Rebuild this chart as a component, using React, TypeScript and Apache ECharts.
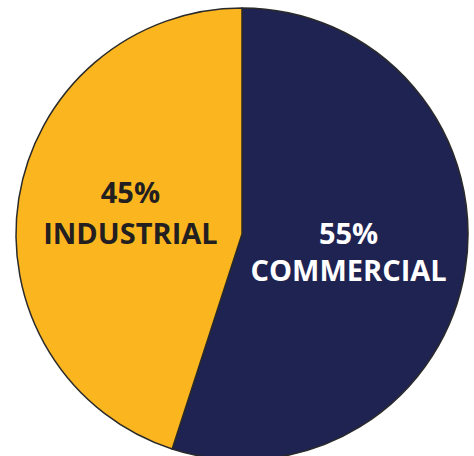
import React, { useEffect, useRef } from "react";
import * as echarts from "echarts";

const categories = ["COMMERCIAL", "INDUSTRIAL"];
const values = [55, 45];
const colors = ["#1E2352", "#FBB51F"];
const labelColors = ["#FFFFFF", "#231F20"];

export default function App() {
  const ref = useRef<HTMLDivElement>(null);
  useEffect(() => {
    if (!ref.current) return;
    const chart = echarts.init(ref.current, null, { renderer: "svg" });
    const labelTweaks = [
      { offset: [-8, -1], lineHeight: 37 },
      { offset: [3, -4], lineHeight: 41 },
    ];
    chart.setOption({
      animation: false,
      series: [
        {
          type: "pie",
          center: [242, 234],
          radius: [0, 226],
          startAngle: 90,
          clockwise: true,
          silent: true,
          itemStyle: { borderColor: "#2a2a2a", borderWidth: 1.5 },
          label: {
            show: true,
            position: "inside",
            formatter: "{c}%\n{b}",
            fontFamily: "Open Sans",
            fontWeight: "bold",
            fontSize: 29,
            lineHeight: 38,
          },
          labelLine: { show: false },
          data: categories.map((name, i) => ({
            name,
            value: values[i],
            itemStyle: { color: colors[i] },
            label: { color: labelColors[i], ...labelTweaks[i] },
          })),
        },
      ],
    });
    return () => chart.dispose();
  }, []);
  return (
    <div
      ref={ref}
      style={{ position: "fixed", left: 0, top: 0, width: 474, height: 456, background: "#fff" }}
    />
  );
}
